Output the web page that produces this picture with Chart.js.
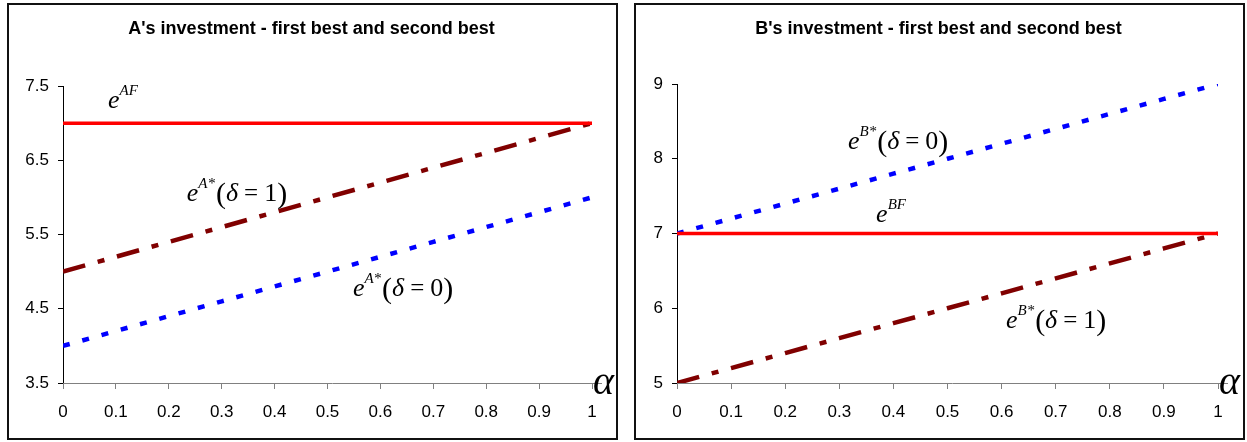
<!DOCTYPE html>
<html>
<head>
<meta charset="utf-8">
<script src="https://cdn.jsdelivr.net/npm/chart.js@4"></script>
<style>
  html, body { margin: 0; padding: 0; background: #fff; }
  body { width: 1247px; height: 442px; position: relative; overflow: hidden; }
  .box { position: absolute; top: 3px; width: 611px; height: 437px; border: 2px solid #111; box-sizing: border-box; background: #fff; }
  .box canvas { display: block; }
</style>
</head>
<body>
<div class="box" style="left:7px"><canvas id="cA" width="607" height="433"></canvas></div>
<div class="box" style="left:634px"><canvas id="cB" width="607" height="433"></canvas></div>
<script>
// ---- data ----
const alpha = [0, 0.1, 0.2, 0.3, 0.4, 0.5, 0.6, 0.7, 0.8, 0.9, 1];
const xTickLabels = ['0', '0.1', '0.2', '0.3', '0.4', '0.5', '0.6', '0.7', '0.8', '0.9', '1'];

const aFirstBest = [7, 7, 7, 7, 7, 7, 7, 7, 7, 7, 7];
const aSecondBestDelta1 = [5, 5.2, 5.4, 5.6, 5.8, 6, 6.2, 6.4, 6.6, 6.8, 7];
const aSecondBestDelta0 = [4, 4.2, 4.4, 4.6, 4.8, 5, 5.2, 5.4, 5.6, 5.8, 6];
const aYTicks = [3.5, 4.5, 5.5, 6.5, 7.5];
const aYTickLabels = ['3.5', '4.5', '5.5', '6.5', '7.5'];

const bFirstBest = [7, 7, 7, 7, 7, 7, 7, 7, 7, 7, 7];
const bSecondBestDelta0 = [7, 7.2, 7.4, 7.6, 7.8, 8, 8.2, 8.4, 8.6, 8.8, 9];
const bSecondBestDelta1 = [5, 5.2, 5.4, 5.6, 5.8, 6, 6.2, 6.4, 6.6, 6.8, 7];
const bYTicks = [5, 6, 7, 8, 9];
const bYTickLabels = ['5', '6', '7', '8', '9'];

const titleA = "A's investment - first best and second best";
const titleB = "B's investment - first best and second best";

// ---- styling ----
const RED = '#FF0000', DARKRED = '#800000', BLUE = '#0000FF';
const SERIF = '"Liberation Serif", "DejaVu Serif", serif';
const SANS = '"Liberation Sans", Arial, sans-serif';

function pts(vals) { return vals.map((v, i) => ({ x: alpha[i], y: v })); }

function mathLabel(sup, tail) {
  const parts = [
    { t: 'e', f: 'italic 26px ' + SERIF, dy: 0 },
    { t: sup, f: 'italic 15px ' + SERIF, dy: -13 }
  ];
  if (tail !== null) {
    parts.push({ t: '(', f: '30px ' + SERIF, dy: 2, gap: 1 });
    parts.push({ t: 'δ', f: 'italic 26px ' + SERIF, dy: 0 });
    parts.push({ t: '\u2009=\u2009', f: '25px ' + SERIF, dy: 0, gap: 1 });
    parts.push({ t: tail, f: '26px ' + SERIF, dy: 0, gap: 1 });
    parts.push({ t: ')', f: '30px ' + SERIF, dy: 2 });
  }
  return parts;
}

function drawParts(ctx, x, y, parts) {
  ctx.save();
  ctx.fillStyle = '#000';
  ctx.textBaseline = 'alphabetic';
  ctx.textAlign = 'left';
  let cx = x;
  for (const p of parts) {
    ctx.font = p.f;
    cx += (p.gap || 0);
    ctx.fillText(p.t, cx, y + p.dy);
    cx += ctx.measureText(p.t).width;
  }
  ctx.restore();
}

function overlayPlugin(title, labels) {
  return {
    id: 'overlay',
    afterDraw(chart) {
      const ctx = chart.ctx;
      const ca = chart.chartArea;
      const xs = chart.scales.x, ys = chart.scales.y;
      // title
      ctx.save();
      ctx.font = 'bold 18px ' + SANS;
      ctx.fillStyle = '#000';
      ctx.textAlign = 'center';
      ctx.textBaseline = 'middle';
      ctx.fillText(title, chart.width / 2 - 1, 24);
      ctx.restore();
      // x axis line
      ctx.save();
      ctx.strokeStyle = '#808080';
      ctx.lineWidth = 1;
      ctx.beginPath();
      ctx.moveTo(ca.left, Math.round(ca.bottom) + 0.5);
      ctx.lineTo(ca.right + 10, Math.round(ca.bottom) + 0.5);
      ctx.stroke();
      ctx.restore();
      // alpha symbol
      ctx.save();
      ctx.font = 'italic 40px ' + SERIF;
      ctx.fillStyle = '#000';
      ctx.textBaseline = 'alphabetic';
      ctx.fillText('α', ca.right + 1, ca.bottom + 11);
      ctx.restore();
      // math annotations
      for (const L of labels) {
        drawParts(ctx, xs.getPixelForValue(L.x), ys.getPixelForValue(L.y), mathLabel(L.sup, L.tail));
      }
    }
  };
}

function makeChart(id, series, yTicks, yTickLabels, pad, yWidth, title, labels) {
  const yMin = yTicks[0], yMax = yTicks[yTicks.length - 1];
  return new Chart(document.getElementById(id), {
    type: 'line',
    data: {
      datasets: [
        { data: pts(series[0]), borderColor: RED, borderWidth: 3.5, pointRadius: 0, tension: 0, fill: false },
        { data: pts(series[1]), borderColor: DARKRED, borderWidth: 4.5, borderDash: [23, 13, 7, 13], pointRadius: 0, tension: 0, fill: false },
        { data: pts(series[2]), borderColor: BLUE, borderWidth: 4.5, borderDash: [7, 13], pointRadius: 0, tension: 0, fill: false }
      ]
    },
    options: {
      responsive: false,
      animation: false,
      events: [],
      layout: { padding: { top: pad.top, right: pad.right, left: 0, bottom: 0 } },
      plugins: { legend: { display: false }, title: { display: false }, tooltip: { enabled: false } },
      scales: {
        x: {
          type: 'linear', min: 0, max: 1,
          afterBuildTicks: s => { s.ticks = alpha.map(v => ({ value: v })); },
          afterFit: s => { s.height = pad.bottom; },
          border: { display: false },
          grid: { drawOnChartArea: false, drawTicks: true, tickLength: 6, color: '#808080' },
          ticks: {
            color: '#000', font: { family: SANS, size: 17 }, padding: 13, maxRotation: 0, autoSkip: false,
            callback: (v, i) => xTickLabels[i]
          }
        },
        y: {
          type: 'linear', min: yMin, max: yMax,
          afterBuildTicks: s => { s.ticks = yTicks.map(v => ({ value: v })); },
          afterFit: s => { s.width = yWidth; },
          border: { display: true, color: '#000', width: 1 },
          grid: { drawOnChartArea: false, drawTicks: true, tickLength: 5, color: '#000' },
          ticks: {
            color: '#000', font: { family: SANS, size: 17 }, padding: 9, autoSkip: false,
            callback: (v, i) => yTickLabels[i]
          }
        }
      }
    },
    plugins: [overlayPlugin(title, labels)]
  });
}

makeChart('cA', [aFirstBest, aSecondBestDelta1, aSecondBestDelta0], aYTicks, aYTickLabels,
  { top: 81, right: 24, bottom: 55 }, 54, titleA,
  [
    { x: 0.085, y: 7.2, sup: 'AF', tail: null },
    { x: 0.234, y: 5.95, sup: 'A*', tail: '1' },
    { x: 0.548, y: 4.67, sup: 'A*', tail: '0' }
  ]);

makeChart('cB', [bFirstBest, bSecondBestDelta1, bSecondBestDelta0], bYTicks, bYTickLabels,
  { top: 79, right: 25, bottom: 55 }, 41, titleB,
  [
    { x: 0.316, y: 8.13, sup: 'B*', tail: '0' },
    { x: 0.368, y: 7.15, sup: 'BF', tail: null },
    { x: 0.608, y: 5.73, sup: 'B*', tail: '1' }
  ]);
</script>
</body>
</html>
